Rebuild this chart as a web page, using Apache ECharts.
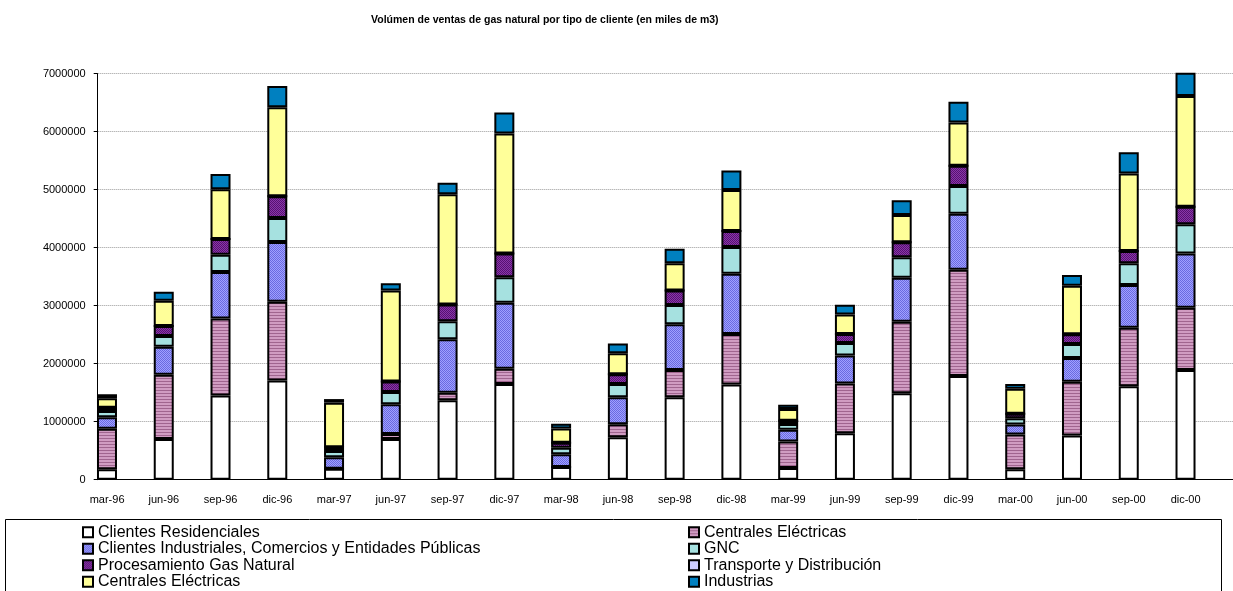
<!DOCTYPE html>
<html>
<head>
<meta charset="utf-8">
<script src="https://cdn.jsdelivr.net/npm/echarts@6/dist/echarts.min.js"></script>
<style>
  html, body { margin: 0; padding: 0; background: #fff; }
  #main { width: 1233px; height: 591px; }
</style>
</head>
<body>
<div id="main"></div>
<script>
// trimestres
var categorias = ['mar-96', 'jun-96', 'sep-96', 'dic-96', 'mar-97', 'jun-97', 'sep-97', 'dic-97', 'mar-98', 'jun-98',
    'sep-98', 'dic-98', 'mar-99', 'jun-99', 'sep-99', 'dic-99', 'mar-00', 'jun-00', 'sep-00', 'dic-00'];
var ticksY = [0, 1000000, 2000000, 3000000, 4000000, 5000000, 6000000, 7000000];

// miles de m3
var residenciales = [180000, 700000, 1450000, 1710000, 190000, 700000, 1370000, 1650000, 220000, 730000,
    1420000, 1640000, 200000, 800000, 1490000, 1790000, 180000, 760000, 1610000, 1890000];
var centralesA = [700000, 1110000, 1330000, 1360000, 0, 86000, 130000, 264000, 0, 225000,
    470000, 870000, 460000, 860000, 1234000, 1830000, 600000, 930000, 1010000, 1076000];
var industriales = [196000, 483000, 800000, 1030000, 196000, 517000, 920000, 1136000, 220000, 465000,
    790000, 1040000, 200000, 480000, 760000, 965000, 170000, 410000, 737000, 934000];
var gnc = [108000, 185000, 300000, 410000, 109000, 207000, 310000, 440000, 110000, 230000,
    330000, 460000, 100000, 217000, 350000, 480000, 110000, 240000, 373000, 503000];
var procesamiento = [57000, 172000, 270000, 375000, 64000, 183000, 290000, 410000, 86000, 167000,
    250000, 280000, 57000, 157000, 260000, 350000, 76000, 167000, 213000, 304000];
var transporte = [0, 0, 0, 0, 0, 0, 0, 0, 0, 0, 0, 0, 0, 0, 0, 0, 0, 0, 0, 0];
var centralesB = [162000, 436000, 857000, 1535000, 769000, 1570000, 1900000, 2070000, 248000, 363000,
    470000, 705000, 200000, 333000, 470000, 745000, 430000, 838000, 1337000, 1908000];
var industrias = [69000, 154000, 263000, 370000, 62000, 126000, 200000, 360000, 80000, 170000,
    250000, 335000, 75000, 170000, 256000, 355000, 86000, 185000, 365000, 500000];

var FONT = '"Liberation Sans", Arial, sans-serif';

// texturas tipo Excel
function rayas(fondo, linea) {
    var c = document.createElement('canvas');
    c.width = 4; c.height = 3;
    var ctx = c.getContext('2d');
    ctx.fillStyle = fondo; ctx.fillRect(0, 0, 4, 3);
    ctx.fillStyle = linea; ctx.fillRect(0, 0, 4, 1);
    return { image: c, repeat: 'repeat' };
}
function puntos(a, b) {
    var c = document.createElement('canvas');
    c.width = 2; c.height = 2;
    var ctx = c.getContext('2d');
    ctx.fillStyle = a; ctx.fillRect(0, 0, 2, 2);
    ctx.fillStyle = b; ctx.fillRect(0, 0, 1, 1); ctx.fillRect(1, 1, 1, 1);
    return { image: c, repeat: 'repeat' };
}

function serie(nombre, datos, color) {
    return {
        name: nombre,
        type: 'bar',
        stack: 'total',
        barWidth: 20,
        barGap: '91%',
        data: datos,
        itemStyle: { color: color, borderColor: '#000', borderWidth: 2 },
        emphasis: { disabled: true }
    };
}

var series = [
    serie('Clientes Residenciales', residenciales, '#ffffff'),
    serie('Centrales Eléctricas', centralesA, rayas('#d09cc2', '#a0658f')),
    serie('Clientes Industriales, Comercios y Entidades Públicas', industriales, puntos('#a0a0ff', '#6a6ae0')),
    serie('GNC', gnc, '#a6e1e0'),
    serie('Procesamiento Gas Natural', procesamiento, puntos('#8a36a8', '#561272')),
    serie('Transporte y Distribución', transporte, '#ccccff'),
    serie('Centrales Eléctricas ', centralesB, '#ffff99'),
    serie('Industrias', industrias, '#0080c0'),
    // pila vacia: deja las barras pegadas al borde izquierdo de cada categoria
    { name: '', type: 'bar', stack: 'vacio', barWidth: 20, data: categorias.map(function () { return '-'; }), silent: true }
];

var leyenda = {
    orient: 'vertical',
    top: 524,
    height: 120,
    padding: 0,
    icon: 'rect',
    itemWidth: 10,
    itemHeight: 10,
    itemGap: 0,
    selectedMode: false,
    textStyle: { fontSize: 16, color: '#000', lineHeight: 16.5, fontFamily: FONT }
};

var myChart = echarts.init(document.getElementById('main'));
myChart.setOption({
    animation: false,
    textStyle: { fontFamily: FONT },
    title: {
        text: 'Volúmen de ventas de gas natural por tipo de cliente (en miles de m3)',
        left: 366,
        top: 10,
        textStyle: { fontSize: 10.5, fontWeight: 'bold', color: '#000', fontFamily: FONT }
    },
    grid: { left: 97.7, right: -29, top: 73.7, bottom: 111.3 },
    xAxis: {
        type: 'category',
        data: categorias,
        axisLine: { lineStyle: { color: '#000', width: 1 } },
        axisTick: { length: 5, lineStyle: { color: '#000' } },
        axisLabel: { color: '#000', fontSize: 11, margin: 15, padding: [0, 38, 0, 0], fontFamily: FONT }
    },
    yAxis: {
        type: 'value',
        min: ticksY[0],
        max: ticksY[ticksY.length - 1],
        interval: ticksY[1] - ticksY[0],
        axisLine: { show: true, lineStyle: { color: '#000', width: 1 } },
        axisTick: { show: true, length: 4, lineStyle: { color: '#000' } },
        axisLabel: { color: '#000', fontSize: 11, margin: 12, fontFamily: FONT,
            formatter: function (v) { return String(v); } },
        splitLine: { lineStyle: { color: '#9a9a9a', type: 'dotted', width: 1 } }
    },
    legend: [
        Object.assign({}, leyenda, { left: 82, data: ['Clientes Residenciales',
            'Clientes Industriales, Comercios y Entidades Públicas', 'Procesamiento Gas Natural', 'Centrales Eléctricas '] }),
        Object.assign({}, leyenda, { left: 688, data: ['Centrales Eléctricas', 'GNC',
            'Transporte y Distribución', 'Industrias'] })
    ],
    graphic: [{
        type: 'rect',
        shape: { x: 5.5, y: 519.5, width: 1216, height: 100 },
        style: { fill: 'none', stroke: '#000', lineWidth: 1 },
        silent: true
    }],
    series: series
});
</script>
</body>
</html>
